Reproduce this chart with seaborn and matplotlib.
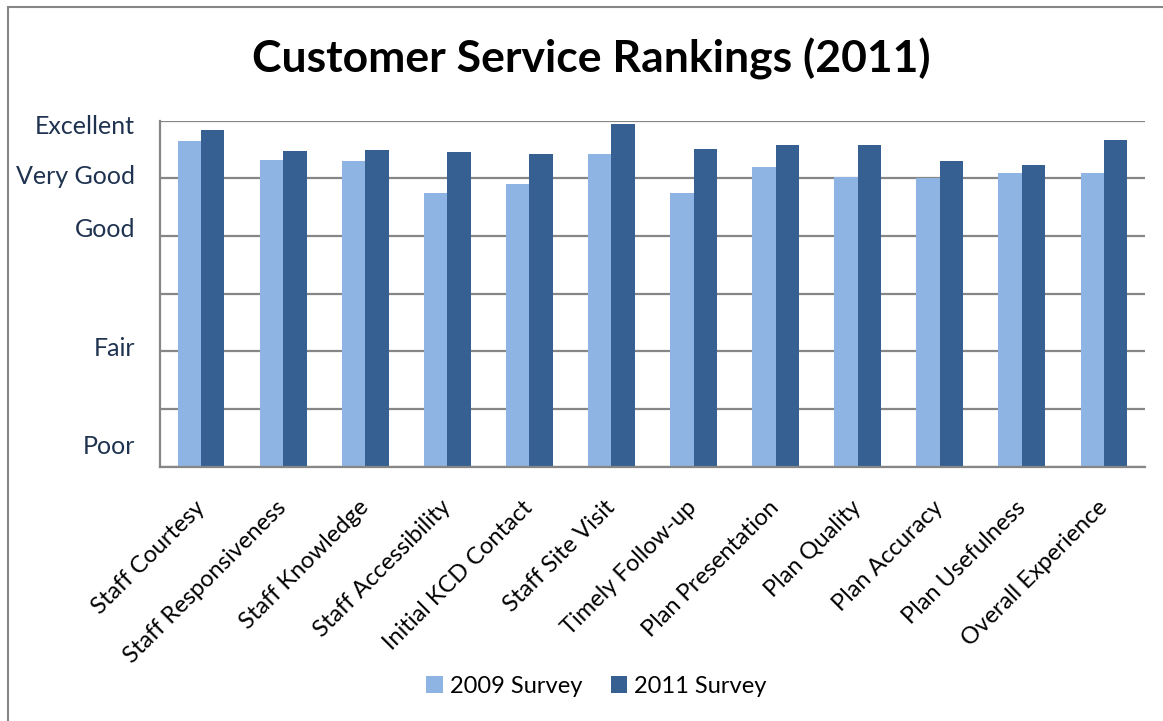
import matplotlib
matplotlib.use("Agg")
import matplotlib.pyplot as plt
import matplotlib.patches as mpatches
import pandas as pd
import seaborn as sns

categories = [
    "Staff Courtesy", "Staff Responsiveness", "Staff Knowledge",
    "Staff Accessibility", "Initial KCD Contact", "Staff Site Visit",
    "Timely Follow-up", "Plan Presentation", "Plan Quality",
    "Plan Accuracy", "Plan Usefulness", "Overall Experience",
]
survey_2009 = [5.65, 5.31, 5.30, 4.75, 4.91, 5.42, 4.75, 5.20, 5.02, 5.01, 5.10, 5.10]
survey_2011 = [5.83, 5.47, 5.50, 5.46, 5.42, 5.95, 5.51, 5.58, 5.58, 5.30, 5.24, 5.66]
series_names = ["2009 Survey", "2011 Survey"]

rating_labels = ["Poor", "Fair", "Good", "Very Good", "Excellent"]
rating_pos = [0.39, 2.08, 4.15, 5.06, 5.94]

df = pd.DataFrame({
    "category": categories * 2,
    "survey": [series_names[0]] * len(categories) + [series_names[1]] * len(categories),
    "value": survey_2009 + survey_2011,
})

sns.set_style("white")
plt.rcParams["font.family"] = ["Lato", "DejaVu Sans"]
plt.rcParams["text.color"] = "black"

colors = ["#8DB4E2", "#366092"]
grid_col = "#868686"

fig = plt.figure(figsize=(11.63, 7.21), dpi=100)
ax = fig.add_axes([0.1376, 0.3527, 0.8469, 0.4799])

sns.barplot(data=df, x="category", y="value", hue="survey", palette=colors,
            width=0.57, gap=0, linewidth=0, saturation=1, ax=ax, legend=True)

ax.set_ylim(0, 6)
ax.set_xlim(-0.5, len(categories) - 0.5)
ax.set_yticks(range(0, 7), minor=True)
ax.grid(False)
ax.grid(which="minor", axis="y", color=grid_col, linewidth=1.6)
ax.set_axisbelow(True)
ax.set_yticks(rating_pos)
ax.set_yticklabels(rating_labels, fontsize=18, color="#1F3350")
ax.tick_params(axis="y", which="both", length=0, pad=18)
ax.tick_params(axis="x", length=0, pad=27)
ax.set_xticks(range(len(categories)))
ax.set_xticklabels(categories, rotation=45, ha="right", va="center",
                   rotation_mode="anchor", fontsize=17, color="black")
ax.set_xlabel("")
ax.set_ylabel("")

for side in ["top", "right"]:
    ax.spines[side].set_visible(False)
for side in ["left", "bottom"]:
    ax.spines[side].set_color(grid_col)
    ax.spines[side].set_linewidth(1.6)

handles, labels = ax.get_legend_handles_labels()
ax.legend_.remove()
fig.legend(handles, labels, loc="center", bbox_to_anchor=(0.513, 0.048), ncol=2,
           frameon=False, fontsize=17, handlelength=0.7, handleheight=0.7,
           handletextpad=0.3, columnspacing=1.2, labelcolor="black")

fig.text(0.5086, 0.918, "Customer Service Rankings (2011)", ha="center", va="center",
         fontsize=32, fontweight="bold", color="black")

# outer chart border (only left and top are visible in the crop)
border = mpatches.Rectangle((8 / 1163, -0.1), 1.2, 1.1 - 7 / 721,
                            transform=fig.transFigure, fill=False,
                            edgecolor=grid_col, linewidth=1.5)
fig.add_artist(border)

plt.savefig("out.png", dpi=100)
plt.close()
